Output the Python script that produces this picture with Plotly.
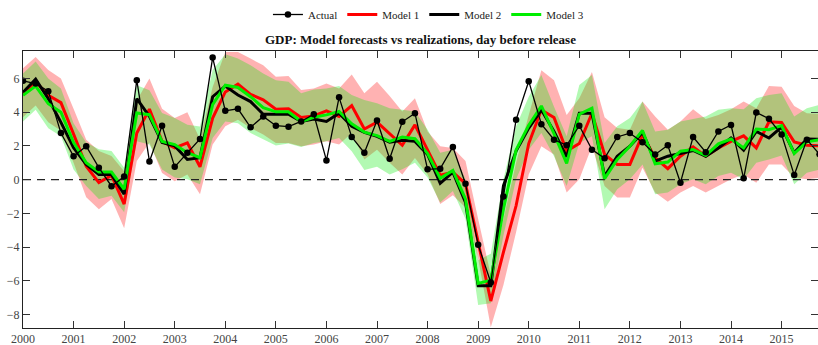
import plotly.graph_objects as go

# Quarterly dates 2000Q1 .. 2015Q4 (decimal years)
years = list(range(2000, 2016))
quarters = [y + q / 4 for y in years for q in range(4)]

# Realized GDP growth (annualized, %)
actual = [
    5.86, 5.7, 5.25, 2.76,
    1.39, 1.98, 0.71, -0.39,
    0.18, 5.9, 1.08, 3.2,
    0.76, 1.6, 2.41, 7.24,
    4.08, 4.2, 3.1, 3.75,
    3.2, 3.14, 3.45, 3.88,
    1.14, 4.88, 2.53, 1.59,
    3.51, 1.24, 3.43, 3.94,
    0.61, 0.65, 1.94, -0.25,
    -3.86, -6.1, -1.0, 3.55,
    5.84, 3.29, 2.37, 2.04,
    3.2, 1.78, 1.27, 2.53,
    2.76, 2.22, 1.49, 2.04,
    -0.18, 2.53, 1.63, 2.86,
    3.24, 0.08, 3.98, 3.61,
    2.67, 0.27, 2.37, 1.5,
]

model1 = [
    5.1, 5.8, 5.0, 4.57,
    2.7, 0.8, -0.18, 0.25,
    -1.45, 2.76, 4.18, 2.27,
    1.88, 2.18, 0.76, 3.65,
    5.2, 5.67, 5.06, 4.73,
    4.18, 4.2, 3.69, 3.78,
    4.08, 3.75, 4.39, 3.0,
    3.41, 2.73, 2.04, 3.25,
    1.78, 0.27, 0.45, -0.24,
    -3.7, -7.2, -4.3, -1.55,
    2.14, 4.14, 3.69, 1.69,
    2.14, 3.94, 1.5, 0.9,
    0.9, 2.67, 1.29, 0.65,
    1.39, 1.94, 1.39, 1.88,
    2.27, 2.6, 1.88, 3.43,
    3.39, 2.24, 2.04, 2.0,
]

model2 = [
    5.18, 5.96, 4.8, 3.4,
    1.9, 0.9, 0.3, 0.3,
    -0.86, 4.8, 3.75, 2.2,
    2.0, 1.2, 1.3, 4.92,
    5.55, 5.02, 4.63, 3.88,
    3.88, 3.88, 3.45, 3.59,
    3.45, 3.94, 3.16, 2.8,
    2.57, 2.22, 2.33, 2.27,
    1.49, -0.22, 0.45, -1.35,
    -6.3, -6.3, -0.37, 1.69,
    3.06, 4.14, 2.86, 1.35,
    3.94, 3.94, 0.2, 1.39,
    1.98, 2.8, 1.1, 1.39,
    1.55, 1.73, 1.39, 1.88,
    2.47, 1.75, 2.86, 2.47,
    3.12, 1.59, 2.41, 2.4,
]

model3 = [
    5.0, 5.55, 4.5, 4.0,
    2.2, 1.0, 0.45, 0.45,
    -0.57, 3.95, 3.85, 2.27,
    2.08, 1.6, 1.3, 4.45,
    5.6, 5.47, 4.92, 4.27,
    4.02, 4.02, 3.45, 3.7,
    3.84, 4.04, 3.31, 2.82,
    2.61, 2.27, 2.53, 2.43,
    1.55, 0.08, 0.55, -1.16,
    -6.16, -5.96, -1.75, 1.75,
    3.22, 4.37, 2.73, 0.96,
    3.88, 4.24, 0.06, 1.2,
    1.98, 2.92, 0.94, 1.04,
    1.69, 1.78, 1.43, 2.12,
    2.41, 1.88, 3.0, 2.96,
    3.2, 1.55, 2.24, 2.37,
]

# Forecast uncertainty bands
model1_upper = [
    6.6, 7.27, 6.5, 6.0,
    4.2, 2.37, 1.7, 1.4,
    0.5, 4.7, 6.0, 4.2,
    3.65, 4.0, 2.4, 5.5,
    7.57, 7.57, 7.18, 6.78,
    6.1, 6.14, 5.31, 5.41,
    5.7, 5.41, 6.24, 5.12,
    5.8, 4.96, 4.04, 4.82,
    2.86, 1.98, 1.88, 1.1,
    -2.33, -5.67, -2.33, 1.0,
    3.84, 6.49, 5.9, 3.84,
    4.82, 6.39, 3.7, 3.06,
    2.96, 4.63, 3.75, 2.96,
    3.45, 4.18, 3.59, 3.84,
    4.18, 4.63, 4.24, 5.55,
    5.51, 4.37, 3.94, 3.9,
]
model1_lower = [
    3.7, 4.4, 3.4, 2.9,
    1.0, -1.05, -1.75, -1.15,
    -2.88, 1.1, 2.2, 0.4,
    -0.1, 0.3, -0.86, 2.08,
    3.16, 3.55, 3.06, 2.67,
    2.18, 2.18, 1.98, 2.08,
    2.27, 2.08, 2.76, 1.2,
    1.78, 1.0, 0.31, 1.29,
    0.31, -1.45, -0.92, -1.65,
    -4.69, -8.76, -6.25, -3.12,
    0.31, 1.98, 1.49, -0.76,
    0.02, 1.98, -0.37, -1.06,
    -1.06, 0.71, -0.76, -1.31,
    -0.76, -0.37, -0.76, -0.37,
    0.02, 0.31, -0.18, 0.9,
    0.9, 0.12, 0.02, 0.1,
]
model3_upper = [
    6.3, 7.0, 6.0, 5.4,
    3.35, 2.2, 1.8, 1.7,
    0.7, 5.6, 5.3, 3.95,
    3.65, 3.25, 3.15, 6.5,
    7.43, 7.18, 6.78, 6.3,
    5.9, 5.8, 5.12, 5.35,
    5.41, 5.55, 5.02, 4.73,
    4.53, 4.24, 4.14, 4.04,
    2.96, 1.59, 1.78, 0.02,
    -4.78, -4.39, 0.02, 3.16,
    4.92, 6.2, 4.33, 2.57,
    5.61, 6.2, 2.18, 3.16,
    3.65, 4.63, 2.86, 2.96,
    3.45, 3.59, 3.75, 4.14,
    4.24, 4.18, 4.82, 5.02,
    5.12, 3.75, 4.24, 4.43,
]
model3_lower = [
    3.45, 4.15, 3.05, 2.57,
    0.6, -0.37, -1.15, -0.96,
    -1.94, 2.27, 2.08, 0.6,
    0.12, 0.02, -0.27, 2.47,
    3.45, 3.35, 2.76, 2.37,
    2.02, 2.14, 1.94, 2.18,
    2.27, 2.47, 1.69, 0.57,
    0.76, 0.31, 0.61, 1.0,
    0.12, -1.35, -0.67, -2.33,
    -7.43, -7.33, -3.31, 0.02,
    1.78, 2.76, 1.39, -0.37,
    2.18, 2.57, -1.75, -0.57,
    0.02, 0.9, -0.86, -0.76,
    -0.27, 0.02, -0.27, 0.22,
    0.41, 0.02, 1.0, 1.2,
    1.43, -0.27, 0.41, 0.6,
]

y_ticks = [-8, -6, -4, -2, 0, 2, 4, 6]
x_ticks = years
x_ticklabels = [str(y) for y in years]

SERIF = "Liberation Serif, Times New Roman, serif"

fig = go.Figure()


def add_band(upper, lower, fillcolor):
    fig.add_trace(go.Scatter(x=quarters, y=upper, mode="lines", line=dict(width=0),
                             hoverinfo="skip", showlegend=False))
    fig.add_trace(go.Scatter(x=quarters, y=lower, mode="lines", line=dict(width=0),
                             fill="tonexty", fillcolor=fillcolor,
                             hoverinfo="skip", showlegend=False))


add_band(model1_upper, model1_lower, "rgba(255,0,0,0.30)")
add_band(model3_upper, model3_lower, "rgba(0,235,0,0.30)")

# dashed zero reference
fig.add_trace(go.Scatter(x=[quarters[0], quarters[-1]], y=[0, 0], mode="lines",
                         line=dict(color="#222222", width=1.4, dash="8px,6px"),
                         hoverinfo="skip", showlegend=False))

fig.add_trace(go.Scatter(x=quarters, y=model1, mode="lines", name="Model 1",
                         line=dict(color="#ff0000", width=3), legendrank=2))
fig.add_trace(go.Scatter(x=quarters, y=model2, mode="lines", name="Model 2",
                         line=dict(color="#000000", width=3), legendrank=3))
fig.add_trace(go.Scatter(x=quarters, y=model3, mode="lines", name="Model 3",
                         line=dict(color="#00ee00", width=3), legendrank=4))
fig.add_trace(go.Scatter(x=quarters, y=actual, mode="lines+markers", name="Actual",
                         line=dict(color="#000000", width=1.3),
                         marker=dict(color="#000000", size=6.5), legendrank=1))

axis_common = dict(
    showline=True, linecolor="#222222", linewidth=1, mirror="allticks",
    ticks="inside", ticklen=7, tickwidth=1, tickcolor="#333333",
    showgrid=False, zeroline=False,
    tickfont=dict(family=SERIF, size=12, color="#444444"),
)

fig.update_xaxes(range=[2000, 2015.72], tickvals=x_ticks, ticktext=x_ticklabels,
                 **axis_common)
fig.update_yaxes(range=[-8.8, 7.63], tickvals=y_ticks, **axis_common)

fig.update_layout(
    width=818, height=345,
    margin=dict(l=23, r=0, t=49, b=17),
    paper_bgcolor="white", plot_bgcolor="white",
    font=dict(family=SERIF, color="#111111"),
    title=dict(text="<b>GDP: Model forecasts vs realizations, day before release</b>",
               x=0.514, xanchor="center", y=1 - 39 / 345, yanchor="middle",
               font=dict(family=SERIF, size=13, color="#111111")),
    legend=dict(orientation="h", traceorder="normal",
                x=0.51, xanchor="center", y=1.133, yanchor="middle",
                font=dict(family=SERIF, size=11, color="#222222"),
                bgcolor="rgba(0,0,0,0)", itemwidth=30, tracegroupgap=0),
    showlegend=True,
)

fig.write_html("out.html")
